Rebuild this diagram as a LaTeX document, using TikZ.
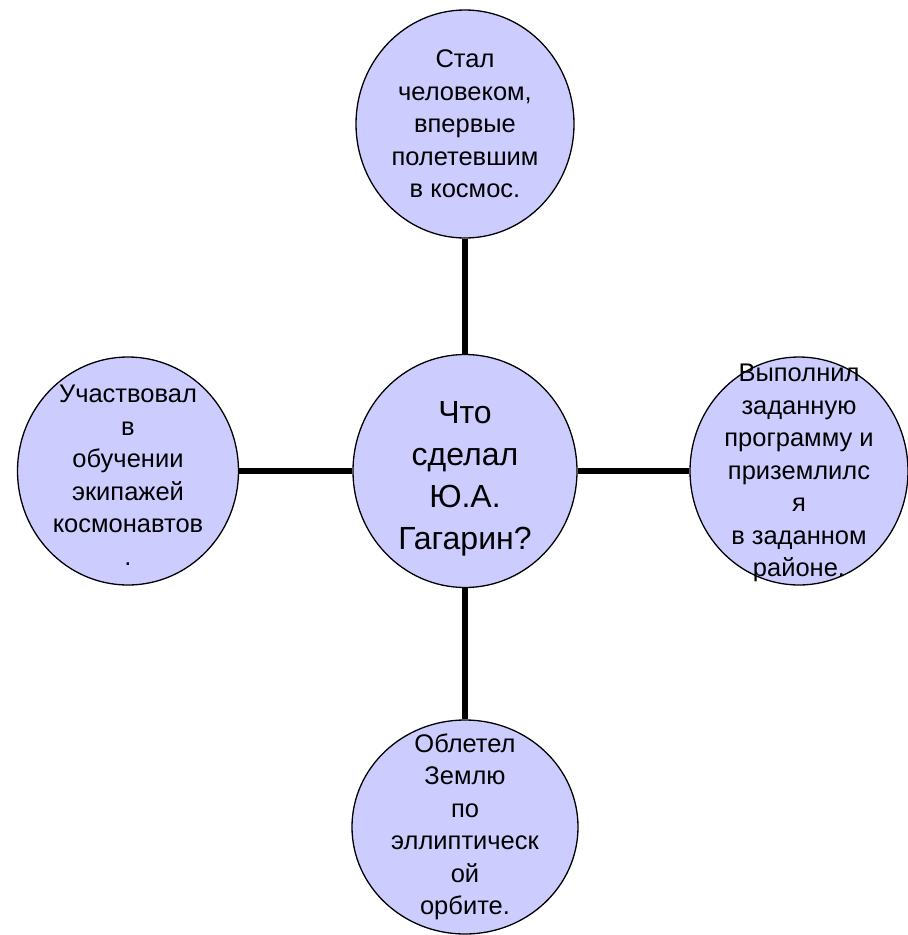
\documentclass[tikz,border=0pt]{standalone}
\usepackage{fontspec}
\setmainfont{Liberation Sans}
\usetikzlibrary{shapes.geometric}
\definecolor{bubble}{HTML}{CCCCFF}
\begin{document}
\begin{tikzpicture}[x=1pt,y=-1pt,
  bub/.style={ellipse, draw=black, line width=1.3pt, fill=bubble, minimum width=218pt, minimum height=228pt, inner sep=0pt},
  txt/.style={align=center, inner sep=0pt, font=\fontsize{25.5}{32.5}\selectfont},
  bigtxt/.style={align=center, inner sep=0pt, font=\fontsize{32}{42}\selectfont},
  link/.style={line width=6pt}]
\useasboundingbox (0,0) rectangle (908,935);
% bubbles
\node[bub] (top) at (465,124) {};
\node[bub, minimum width=224pt, minimum height=233pt] (mid) at (465,471) {};
\node[bub, minimum width=221pt] (left) at (128,471) {};
\node[bub] (right) at (799,471) {};
\node[bub, minimum width=226pt, minimum height=214pt] (bot) at (465,827) {};
% connectors
\draw[link] (top.south) -- (mid.north);
\draw[link] (mid.south) -- (bot.north);
\draw[link] (left.east) -- (mid.west);
\draw[link] (mid.east) -- (right.west);
% texts
\node[txt] (ttop) at (top.center) {Стал\\человеком,\\впервые\\полетевшим\\в космос.};
\node[bigtxt] (tmid) at ([yshift=-8pt]mid.center) {Что\\сделал\\Ю.А.\\Гагарин?};
\node[txt] (tleft) at ([yshift=-4pt]left.center) {Участвовал\\в\\обучении\\экипажей\\космонавтов\\.};
\node[txt] (tright) at ([yshift=-2pt]right.center) {Выполнил\\заданную\\программу и\\приземлилс\\я\\в заданном\\районе.};
\node[txt] (tbot) at (bot.center) {Облетел\\Землю\\по\\эллиптическ\\ой\\орбите.};
\end{tikzpicture}
\end{document}
